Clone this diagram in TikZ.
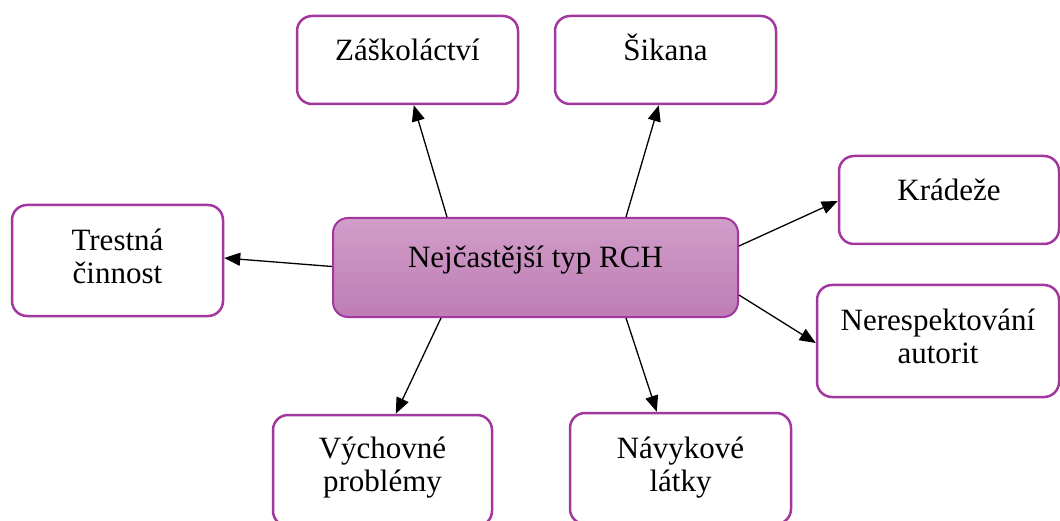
\documentclass[tikz,border=0pt]{standalone}
\usepackage{fontspec}
\setmainfont{Liberation Serif}
\usetikzlibrary{arrows.meta}
\definecolor{boxborder}{HTML}{A2389E}
\definecolor{ctop}{HTML}{D19DC9}
\definecolor{cbot}{HTML}{BE7DB4}
\tikzset{
  box/.style={draw=boxborder, line width=2.5pt, rounded corners=15pt, fill=white, inner sep=0pt},
  mainbox/.style={draw=boxborder, line width=2pt, rounded corners=15pt, top color=ctop, bottom color=cbot, inner sep=0pt},
  txt/.style={font=\fontsize{31}{33}\selectfont, align=center, inner sep=0pt, anchor=base},
  conn/.style={line width=1.3pt, -{Triangle[length=16pt,width=13pt]}}
}
\begin{document}
\begin{tikzpicture}[x=1pt,y=-1pt]
\useasboundingbox (0,0) rectangle (1060,521);
\clip (0,0) rectangle (1060,521);
% boxes
\node[mainbox, minimum width=405pt, minimum height=99pt] (c) at (535.5,267.5) {};
\node[box, minimum width=221pt, minimum height=88pt] (zas) at (407.5,60) {};
\node[box, minimum width=221pt, minimum height=88pt] (sik) at (665.5,60) {};
\node[box, minimum width=220pt, minimum height=88pt] (kra) at (949,200) {};
\node[box, minimum width=211pt, minimum height=111pt] (tre) at (117.5,260.5) {};
\node[box, minimum width=242pt, minimum height=112pt] (ner) at (938,341) {};
\node[box, minimum width=219pt, minimum height=111pt] (vych) at (382.5,470.5) {};
\node[box, minimum width=221pt, minimum height=111pt] (nav) at (680.5,468.5) {};
% texts (base = last line)
\node[txt] (ct) at ([yshift=-51pt]c.north) {Nejčastější typ RCH};
\node[txt] (zast) at ([yshift=-46pt]zas.north) {Záškoláctví};
\node[txt] (sikt) at ([yshift=-46pt]sik.north) {Šikana};
\node[txt] (krat) at ([yshift=-46pt]kra.north) {Krádeže};
\node[txt] (tret) at ([yshift=-80pt]tre.north) {Trestná\\činnost};
\node[txt] (nert) at ([yshift=-80pt]ner.north) {Nerespektování\\autorit};
\node[txt] (vycht) at ([yshift=-78pt]vych.north) {Výchovné\\problémy};
\node[txt] (navt) at ([yshift=-80pt]nav.north) {Návykové\\látky};
% connectors
\draw[conn] ([xshift=115pt]c.north west) -- ([xshift=118pt]zas.south west);
\draw[conn] ([xshift=294pt]c.north west) -- ([xshift=105pt]sik.south west);
\draw[conn] ([yshift=-29pt]c.north east) -- ([yshift=-1pt]kra.west);
\draw[conn] ([yshift=1pt]c.west) -- ([yshift=2.5pt]tre.east);
\draw[conn] ([yshift=-27.5pt]c.east) -- ([yshift=-2pt]ner.west);
\draw[conn] ([xshift=109pt]c.south west) -- ([xshift=124pt]vych.north west);
\draw[conn] ([xshift=294pt]c.south west) -- ([xshift=88pt]nav.north west);
\end{tikzpicture}
\end{document}
